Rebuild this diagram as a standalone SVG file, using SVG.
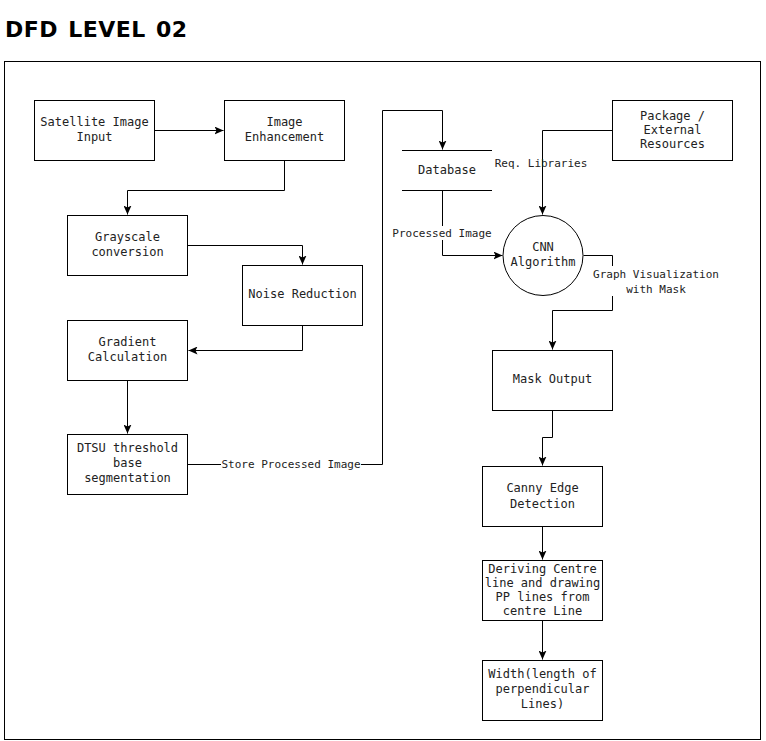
<svg xmlns="http://www.w3.org/2000/svg" width="766" height="741" viewBox="0 0 766 741">
<style>
.box{fill:#fff;stroke:#000;stroke-width:1}
.t{font-family:"DejaVu Sans Mono","Liberation Mono",monospace;font-size:12px;fill:#222;text-anchor:middle}
.l{font-family:"DejaVu Sans Mono","Liberation Mono",monospace;font-size:11px;fill:#222;text-anchor:middle}
.c{fill:none;stroke:#000;stroke-width:1}
.bg{fill:#fff;stroke:none}
</style>
<defs>
<marker id="arr" markerUnits="userSpaceOnUse" markerWidth="10" markerHeight="8" refX="9" refY="4" orient="auto">
<path d="M0,0 L9,4 L0,8 L2,4 z" fill="#000"/>
</marker>
</defs>
<rect width="766" height="741" fill="#fff"/>
<text x="5" y="37" font-family="DejaVu Sans,Verdana,sans-serif" font-weight="bold" font-size="22" letter-spacing="0.5" word-spacing="2" fill="#000">DFD LEVEL 02</text>
<rect x="4.5" y="61.5" width="756" height="678" fill="none" stroke="#000"/>
<g id="connectors">
<path class="c" d="M154.5,130.5 H223.5" marker-end="url(#arr)"/>
<path class="c" d="M284.5,160.5 V190.5 H127.5 V214.5" marker-end="url(#arr)"/>
<path class="c" d="M187.5,245.5 H302.5 V264.5" marker-end="url(#arr)"/>
<path class="c" d="M302.5,325.5 V350.5 H188.5" marker-end="url(#arr)"/>
<path class="c" d="M127.5,380.5 V433.5" marker-end="url(#arr)"/>
<path class="c" d="M187.5,464.5 H382.5 V110.5 H442.5 V149.5" marker-end="url(#arr)"/>
<path class="c" d="M442.5,190.5 V255.5 H502.5" marker-end="url(#arr)"/>
<path class="c" d="M612.5,130.5 H542.5 V214.5" marker-end="url(#arr)"/>
<path class="c" d="M583.5,255.5 H612.5 V310.5 H552.5 V349.5" marker-end="url(#arr)"/>
<path class="c" d="M552.5,410.5 V437.5 H542.5 V465.5" marker-end="url(#arr)"/>
<path class="c" d="M542.5,526.5 V559.5" marker-end="url(#arr)"/>
<path class="c" d="M542.5,620.5 V659.5" marker-end="url(#arr)"/>
<rect class="bg" x="221" y="457" width="140" height="14"/>
<text class="l" x="291" y="468">Store Processed Image</text>
<rect class="bg" x="391" y="226" width="102" height="14"/>
<text class="l" x="442" y="237">Processed Image</text>
<rect class="bg" x="591" y="266" width="130" height="30"/>
<text class="l" x="656" y="278">Graph Visualization</text>
<text class="l" x="656" y="293">with Mask</text>
<text class="l" x="541" y="167">Req. Libraries</text>
</g>
<g id="satellite"><rect class="box" x="34.5" y="100.5" width="120" height="60"/><text class="t" x="94.5" y="126">Satellite Image</text><text class="t" x="94.5" y="141">Input</text></g>
<g id="enhancement"><rect class="box" x="224.5" y="100.5" width="120" height="60"/><text class="t" x="284.5" y="126">Image</text><text class="t" x="284.5" y="141">Enhancement</text></g>
<g id="grayscale"><rect class="box" x="67.5" y="215.5" width="120" height="60"/><text class="t" x="127.5" y="241">Grayscale</text><text class="t" x="127.5" y="256">conversion</text></g>
<g id="noise"><rect class="box" x="242.5" y="265.5" width="120" height="60"/><text class="t" x="302.5" y="298">Noise Reduction</text></g>
<g id="gradient"><rect class="box" x="67.5" y="320.5" width="120" height="60"/><text class="t" x="127.5" y="346">Gradient</text><text class="t" x="127.5" y="361">Calculation</text></g>
<g id="dtsu"><rect class="box" x="67.5" y="434.5" width="120" height="60"/><text class="t" x="127.5" y="452">DTSU threshold</text><text class="t" x="127.5" y="467">base</text><text class="t" x="127.5" y="482">segmentation</text></g>
<g id="database"><path class="c" d="M402,150.5 H492 M402,190.5 H492"/><text class="t" x="447" y="174">Database</text></g>
<g id="package"><rect class="box" x="612.5" y="100.5" width="120" height="60"/><text class="t" x="672.5" y="120">Package /</text><text class="t" x="672.5" y="134">External</text><text class="t" x="672.5" y="148">Resources</text></g>
<g id="cnn"><circle class="box" cx="543" cy="255.5" r="40"/><text class="t" x="543" y="251">CNN</text><text class="t" x="543" y="266">Algorithm</text></g>
<g id="mask"><rect class="box" x="492.5" y="350.5" width="120" height="60"/><text class="t" x="552.5" y="383">Mask Output</text></g>
<g id="canny"><rect class="box" x="482.5" y="466.5" width="120" height="60" stroke="#444"/><text class="t" x="542.5" y="492">Canny Edge</text><text class="t" x="542.5" y="508">Detection</text></g>
<g id="deriving"><rect class="box" x="482.5" y="560.5" width="120" height="60"/><text class="t" x="542.5" y="573">Deriving Centre</text><text class="t" x="542.5" y="587">line and drawing</text><text class="t" x="542.5" y="601">PP lines from</text><text class="t" x="542.5" y="615">centre Line</text></g>
<g id="width"><rect class="box" x="482.5" y="660.5" width="120" height="60"/><text class="t" x="542.5" y="678">Width(length of</text><text class="t" x="542.5" y="693">perpendicular</text><text class="t" x="542.5" y="708">Lines)</text></g>
</svg>
